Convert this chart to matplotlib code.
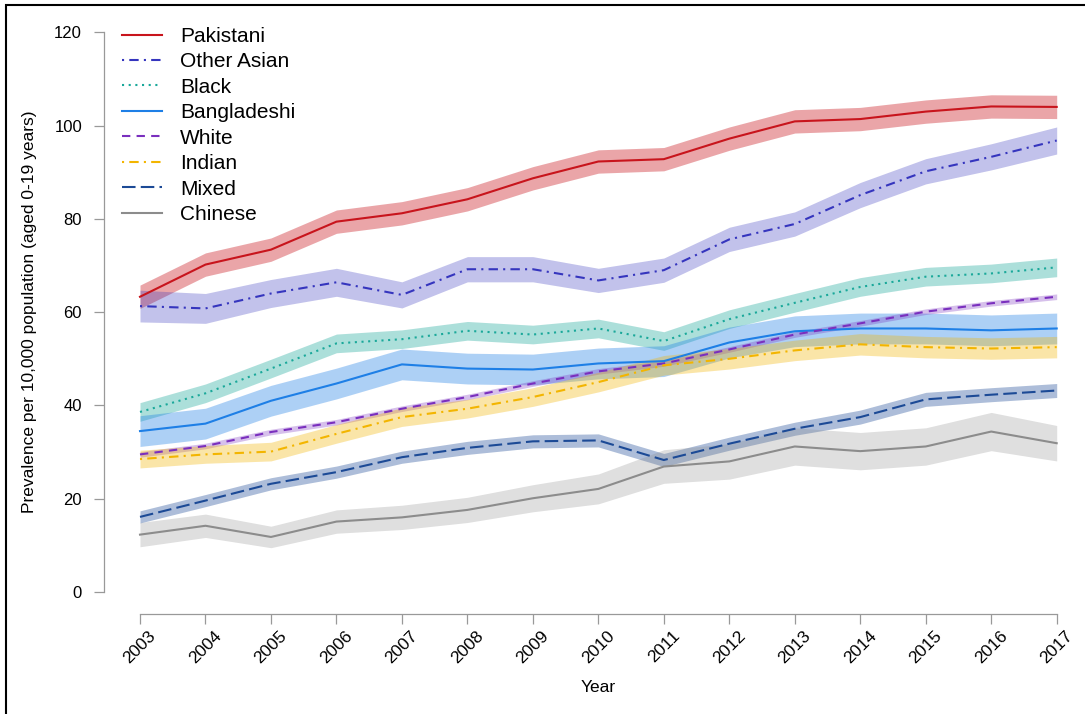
import matplotlib
matplotlib.use("Agg")
import matplotlib.pyplot as plt
from matplotlib.patches import Rectangle
from matplotlib.transforms import ScaledTranslation
import numpy as np

plt.rcParams['font.family'] = ['Liberation Sans', 'DejaVu Sans']

years = list(range(2003, 2018))

# Prevalence per 10,000 (aged 0-19) by ethnic group, with half-widths of the 95% bands
pakistani = [63.3, 70.2, 73.4, 79.4, 81.2, 84.2, 88.7, 92.3, 92.8, 97.2, 100.9, 101.4, 103.0, 104.1, 104.0]
pakistani_hw = [2.5] * 15

other_asian = [61.3, 60.8, 64.0, 66.4, 63.7, 69.2, 69.2, 66.8, 69.0, 75.6, 78.9, 85.1, 90.2, 93.3, 96.8]
other_asian_hw = [3.4, 3.2, 3.0, 3.0, 2.8, 2.7, 2.7, 2.6, 2.6, 2.6, 2.6, 2.7, 2.7, 2.8, 2.9]

black = [38.6, 42.6, 47.9, 53.3, 54.2, 56.0, 55.2, 56.5, 53.8, 58.5, 62.0, 65.4, 67.6, 68.3, 69.6]
black_hw = [2.0] * 15

bangladeshi = [34.5, 36.1, 41.0, 44.7, 48.8, 47.9, 47.7, 49.0, 49.5, 53.5, 55.9, 56.5, 56.5, 56.1, 56.5]
bangladeshi_hw = [3.3] * 15

white = [29.5, 31.3, 34.3, 36.4, 39.3, 41.8, 44.7, 47.3, 49.0, 52.0, 55.2, 57.6, 60.1, 61.9, 63.3]
white_hw = [0.6] * 15

indian = [28.5, 29.5, 30.1, 33.9, 37.5, 39.3, 41.8, 45.0, 48.6, 50.0, 51.8, 53.1, 52.5, 52.2, 52.5]
indian_hw = [1.9, 1.9, 2.0, 2.0, 2.0, 2.0, 2.0, 2.1, 2.1, 2.2, 2.2, 2.3, 2.3, 2.3, 2.3]

mixed = [16.1, 19.6, 23.2, 25.7, 28.9, 30.9, 32.3, 32.5, 28.3, 31.8, 35.0, 37.5, 41.3, 42.3, 43.2]
mixed_hw = [1.3, 1.3, 1.3, 1.3, 1.3, 1.4, 1.4, 1.4, 1.4, 1.4, 1.4, 1.5, 1.5, 1.5, 1.5]

chinese = [12.3, 14.2, 11.8, 15.1, 16.0, 17.6, 20.1, 22.1, 26.9, 28.0, 31.2, 30.2, 31.2, 34.4, 31.9]
chinese_hw = [2.6, 2.5, 2.3, 2.5, 2.6, 2.7, 2.9, 3.2, 3.6, 3.8, 4.0, 4.0, 4.0, 4.1, 3.8]

groups = ["Pakistani", "Other Asian", "Black", "Bangladeshi", "White", "Indian", "Mixed", "Chinese"]
series = [pakistani, other_asian, black, bangladeshi, white, indian, mixed, chinese]
halfwidths = [pakistani_hw, other_asian_hw, black_hw, bangladeshi_hw, white_hw, indian_hw, mixed_hw, chinese_hw]

line_colors = ["#C8141C", "#3535BE", "#1AA89A", "#1E7FE6", "#7A2FBE", "#F3B500", "#1C4A96", "#8C8C8C"]
band_alpha = [0.38, 0.30, 0.36, 0.36, 0.30, 0.34, 0.36, 0.28]
styles = [
    "-",
    (0, (1, 2.5, 4.5, 2.5)),
    (0, (1, 2.2)),
    "-",
    (0, (4, 3)),
    (0, (1, 2.5, 4.5, 2.5)),
    (0, (6.5, 2.5)),
    "-",
]

W, H = 1085, 714
fig = plt.figure(figsize=(W / 100, H / 100), dpi=100)
ax = fig.add_axes([140 / W, 1 - 592 / H, (1056.7 - 140) / W, (592 - 32.3) / H])

x = np.array(years)
for vals, hw, col, a in zip(series, halfwidths, line_colors, band_alpha):
    v = np.array(vals)
    h = np.array(hw)
    ax.fill_between(x, v - h, v + h, color=col, alpha=a, linewidth=0, clip_on=False)

handles = []
for vals, col, ls, name in zip(series, line_colors, styles, groups):
    ln, = ax.plot(x, vals, color=col, linestyle=ls, linewidth=1.5, label=name, clip_on=False)
    handles.append(ln)

ax.set_xlim(2003, 2017)
ax.set_ylim(0, 120)
ax.set_xticks(years)
ax.set_yticks([0, 20, 40, 60, 80, 100, 120])
ax.tick_params(axis="y", labelsize=12, length=7.2, width=0.9, color="#999999", pad=8.5)
ax.tick_params(axis="x", labelsize=12.5, labelrotation=45, length=7.2, width=0.9,
               color="#999999", pad=3)
shift = ScaledTranslation(4 / 100, 0, fig.dpi_scale_trans)
for lab in ax.get_xticklabels():
    lab.set_horizontalalignment("center")
    lab.set_transform(lab.get_transform() + shift)

for side in ("top", "right"):
    ax.spines[side].set_visible(False)
ax.spines["left"].set_position(("outward", 26))
ax.spines["bottom"].set_position(("outward", 15.6))
ax.spines["left"].set_bounds(0, 120)
ax.spines["bottom"].set_bounds(2003, 2017)
for side in ("left", "bottom"):
    ax.spines[side].set_color("#999999")
    ax.spines[side].set_linewidth(0.9)

ax.set_xlabel("Year", fontsize=12.5)
ax.xaxis.set_label_coords(0.5, (592 - 688) / (592 - 32.3))
ax.xaxis.label.set_verticalalignment("center")
ax.set_ylabel("Prevalence per 10,000 population (aged 0-19 years)", fontsize=12.5)
ax.yaxis.set_label_coords((30 - 140) / (1056.7 - 140), 0.5)
ax.yaxis.label.set_verticalalignment("center")

leg = fig.legend(handles=handles, labels=groups, loc="upper left",
                 bbox_to_anchor=(122 / W, 1 - 26.8 / H), frameon=False,
                 fontsize=15, handlelength=1.92, handletextpad=0.87,
                 labelspacing=0.31, borderpad=0, borderaxespad=0)

fig.add_artist(Rectangle((6 / W, -0.05), 1.2, 1.05 - 5 / H, transform=fig.transFigure,
                         fill=False, edgecolor="black", linewidth=1.5))

fig.savefig("out.png", dpi=100)
